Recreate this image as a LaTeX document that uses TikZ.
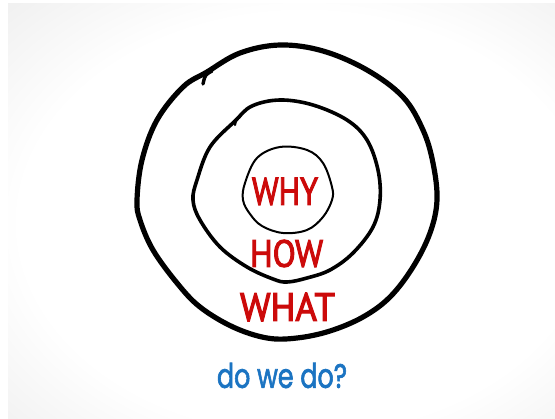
\documentclass[tikz,border=0pt]{standalone}
\usepackage{fontspec}
\newfontfamily\capfont[FakeBold=2.8]{PT Sans}
\newfontfamily\handfont[FakeBold=2.2]{Poppins}
\pgfdeclareradialshading{vign}{\pgfpoint{0bp}{0bp}}{color(0bp)=(white); color(24bp)=(white); color(38bp)=(black!7); color(50bp)=(black!19)}
\definecolor{wred}{HTML}{CC0A0A}
\definecolor{wblue}{HTML}{1B74C2}
\begin{document}
\begin{tikzpicture}[x=1pt,y=-1pt,
  ring/.style={line join=round,line cap=round,draw=black},
  lbl/.style={text=wred,inner sep=0pt,outer sep=0pt,font=\capfont},
  sub/.style={text=wblue,inner sep=0pt,outer sep=0pt,font=\handfont}]
\useasboundingbox (0,0) rectangle (555,419);
\fill[white] (0,0) rectangle (555,419);
\shade[shading=vign] (8,4) rectangle (600,440);
% outer ring
\draw[ring,line width=5.2pt] plot[smooth cycle,tension=0.6] coordinates {
 (280,45) (323,51) (367,70) (403,97) (423,130) (433,163) (437,200) (430,233)
 (413,267) (390,297) (363,317) (330,331) (297,338) (267,338) (233,327) (200,307)
 (177,283) (153,250) (140,220) (137,200) (142,160) (157,120) (183,87) (207,72) (240,53)};
\draw[ring,line width=3.4pt] (212,71) .. controls (205,75) .. (203,84);
% middle ring
\draw[ring,line width=3.6pt] plot[smooth cycle,tension=0.6] coordinates {
 (280,100) (313,105) (347,120) (367,140) (378,170) (380,200) (373,227) (353,253)
 (330,270) (307,278) (287,282) (273,279) (247,267) (220,247) (200,220) (193,200)
 (197,180) (210,147) (235,121) (252,106)};
\draw[ring,line width=2.2pt] (240,117) .. controls (236,120) .. (235,125);
% inner ring
\draw[ring,line width=2pt] plot[smooth cycle,tension=0.6] coordinates {
 (280,147) (307,150) (323,163) (332,187) (332,200) (323,217) (307,230) (283,233)
 (262,226) (250,214) (243,200) (245,183) (257,158)};
% labels
\node[lbl] (why) at (285,191.5) {\resizebox{66pt}{27pt}{WHY}};
\node[lbl] (how) at (286.5,253.5) {\resizebox{73pt}{27pt}{HOW}};
\node[lbl] (what) at (287.5,307) {\resizebox{95pt}{28pt}{WHAT}};
\node[sub] (dowedo) at (282,375.5) {\resizebox{130pt}{25pt}{do we do?}};
\end{tikzpicture}
\end{document}
